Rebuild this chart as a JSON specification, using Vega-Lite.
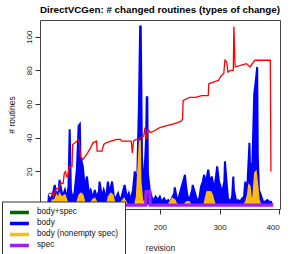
{
  "$schema": "https://vega.github.io/schema/vega-lite/v6.json",
  "width": 240,
  "height": 189,
  "autosize": {"type": "none"},
  "padding": {"left": 40, "top": 20, "right": 14, "bottom": 45},
  "background": "white",
  "title": {"text": "DirectVCGen: # changed routines (types of change)", "fontSize": 9.8, "fontWeight": "bold", "font": "Liberation Sans", "anchor": "middle", "frame": "group", "offset": 5, "color": "#000"},
  "config": {
    "view": {"stroke": "#444", "strokeWidth": 1},
    "font": "Liberation Sans",
    "axis": {"grid": false, "domain": false, "tickColor": "#333", "tickSize": 5, "labelColor": "#222", "labelFontSize": 8, "labelOverlap": false, "titleFontSize": 8.5, "titleFontWeight": "normal", "titleColor": "#222"},
    "legend": {"orient": "none", "legendX": -38, "legendY": 181.5, "fillColor": "white", "strokeColor": "#333", "padding": 6, "symbolType": "M-1,0H5.3", "symbolSize": 36, "symbolStrokeWidth": 3.5, "labelFontSize": 8.2, "labelOffset": 19, "rowPadding": 0, "clipHeight": 9.9, "labelColor": "#111"}
  },
  "datasets": {
    "red": [
      {"x":14,"y":7},{"x":20,"y":7},{"x":22,"y":5},{"x":24,"y":8},{"x":27,"y":10},{"x":31,"y":10},{"x":34,"y":13},{"x":38,"y":13},{"x":40,"y":19},{"x":42,"y":20},{"x":44,"y":17},{"x":46,"y":17},{"x":48,"y":23},{"x":53,"y":23},{"x":54,"y":36},{"x":58,"y":37},{"x":61,"y":38},{"x":63,"y":39},{"x":65,"y":38},{"x":67,"y":29},{"x":71,"y":27},{"x":75,"y":29},{"x":79,"y":31},{"x":84,"y":34},{"x":88,"y":37},{"x":94,"y":38},{"x":95,"y":32},{"x":103,"y":32},{"x":106,"y":36},{"x":110,"y":37},{"x":118,"y":38},{"x":128,"y":39},{"x":134,"y":39},{"x":136,"y":38},{"x":152,"y":38},{"x":154,"y":31},{"x":156,"y":38},{"x":160,"y":39},{"x":166,"y":39},{"x":168,"y":40},{"x":173,"y":41},{"x":175,"y":46},{"x":177,"y":39},{"x":180,"y":45},{"x":184,"y":43},{"x":190,"y":44},{"x":200,"y":46},{"x":210,"y":47},{"x":220,"y":48},{"x":230,"y":49},{"x":236,"y":50},{"x":238,"y":51},{"x":239,"y":62},{"x":244,"y":63},{"x":250,"y":64},{"x":260,"y":64},{"x":270,"y":65},{"x":281,"y":65},{"x":282,"y":72},{"x":290,"y":73},{"x":298,"y":74},{"x":303,"y":77},{"x":307,"y":78},{"x":309,"y":86},{"x":312,"y":85},{"x":314,"y":79},{"x":318,"y":80},{"x":323,"y":80},{"x":324,"y":106},{"x":326,"y":82},{"x":335,"y":83},{"x":345,"y":84},{"x":351,"y":82},{"x":359,"y":86},{"x":370,"y":86},{"x":385,"y":86},{"x":386,"y":20}
    ],
    "blue": [
      {"s":"body","x":13,"y":0},{"s":"body","x":14,"y":5},{"s":"body","x":17,"y":3},{"s":"body","x":21,"y":7},{"s":"body","x":24,"y":12},{"s":"body","x":27,"y":5},{"s":"body","x":31,"y":9},{"s":"body","x":32,"y":15},{"s":"body","x":34,"y":11},{"s":"body","x":37,"y":5},{"s":"body","x":41,"y":9},{"s":"body","x":44,"y":4},{"s":"body","x":47,"y":11},{"s":"body","x":49,"y":45},{"s":"body","x":51,"y":9},{"s":"body","x":54,"y":4},{"s":"body","x":57,"y":7},{"s":"body","x":61,"y":21},{"s":"body","x":64,"y":47},{"s":"body","x":66,"y":48},{"s":"body","x":67,"y":29},{"s":"body","x":71,"y":23},{"s":"body","x":74,"y":11},{"s":"body","x":78,"y":17},{"s":"body","x":81,"y":7},{"s":"body","x":84,"y":9},{"s":"body","x":88,"y":4},{"s":"body","x":91,"y":9},{"s":"body","x":94,"y":5},{"s":"body","x":98,"y":8},{"s":"body","x":99,"y":14},{"s":"body","x":103,"y":5},{"s":"body","x":106,"y":9},{"s":"body","x":110,"y":4},{"s":"body","x":113,"y":14},{"s":"body","x":116,"y":7},{"s":"body","x":120,"y":14},{"s":"body","x":123,"y":5},{"s":"body","x":126,"y":4},{"s":"body","x":130,"y":7},{"s":"body","x":133,"y":3},{"s":"body","x":136,"y":5},{"s":"body","x":141,"y":12},{"s":"body","x":145,"y":4},{"s":"body","x":148,"y":7},{"s":"body","x":151,"y":3},{"s":"body","x":155,"y":9},{"s":"body","x":158,"y":20},{"s":"body","x":162,"y":13},{"s":"body","x":163,"y":29},{"s":"body","x":165,"y":60},{"s":"body","x":167,"y":106},{"s":"body","x":168,"y":106},{"s":"body","x":169,"y":70},{"s":"body","x":170,"y":29},{"s":"body","x":173,"y":9},{"s":"body","x":177,"y":40},{"s":"body","x":178,"y":64},{"s":"body","x":179,"y":64},{"s":"body","x":180,"y":19},{"s":"body","x":183,"y":9},{"s":"body","x":187,"y":4},{"s":"body","x":190,"y":3},{"s":"body","x":193,"y":5},{"s":"body","x":197,"y":3},{"s":"body","x":200,"y":5},{"s":"body","x":203,"y":2},{"s":"body","x":207,"y":4},{"s":"body","x":210,"y":2},{"s":"body","x":214,"y":3},{"s":"body","x":217,"y":2},{"s":"body","x":220,"y":4},{"s":"body","x":224,"y":7},{"s":"body","x":225,"y":10.5},{"s":"body","x":229,"y":3},{"s":"body","x":232,"y":5},{"s":"body","x":235,"y":9},{"s":"body","x":239,"y":14},{"s":"body","x":242,"y":18},{"s":"body","x":244,"y":11},{"s":"body","x":247,"y":4},{"s":"body","x":251,"y":5},{"s":"body","x":254,"y":9},{"s":"body","x":255,"y":12},{"s":"body","x":259,"y":7},{"s":"body","x":262,"y":3},{"s":"body","x":266,"y":4},{"s":"body","x":269,"y":11},{"s":"body","x":272,"y":14},{"s":"body","x":274,"y":18},{"s":"body","x":277,"y":13},{"s":"body","x":281,"y":21},{"s":"body","x":284,"y":13},{"s":"body","x":287,"y":17},{"s":"body","x":291,"y":9},{"s":"body","x":294,"y":17},{"s":"body","x":296,"y":23},{"s":"body","x":299,"y":14},{"s":"body","x":301,"y":12},{"s":"body","x":304,"y":7},{"s":"body","x":308,"y":14},{"s":"body","x":309,"y":26},{"s":"body","x":311,"y":17},{"s":"body","x":314,"y":4},{"s":"body","x":318,"y":2},{"s":"body","x":321,"y":5},{"s":"body","x":323,"y":17},{"s":"body","x":324,"y":9},{"s":"body","x":328,"y":2},{"s":"body","x":331,"y":3},{"s":"body","x":334,"y":2},{"s":"body","x":338,"y":4},{"s":"body","x":341,"y":5},{"s":"body","x":343,"y":14},{"s":"body","x":346,"y":7},{"s":"body","x":350,"y":37},{"s":"body","x":351,"y":24},{"s":"body","x":355,"y":25},{"s":"body","x":358,"y":66},{"s":"body","x":361,"y":75},{"s":"body","x":363,"y":82},{"s":"body","x":364,"y":29},{"s":"body","x":366,"y":9},{"s":"body","x":370,"y":5},{"s":"body","x":373,"y":2},{"s":"body","x":376,"y":2},{"s":"body","x":380,"y":3},{"s":"body","x":383,"y":2},{"s":"body","x":386,"y":2},{"s":"body","x":388,"y":0}
    ],
    "orange": [
      {"s":"body (nonempty spec)","x":18,"y":0},{"s":"body (nonempty spec)","x":20,"y":3},{"s":"body (nonempty spec)","x":24,"y":3},{"s":"body (nonempty spec)","x":27,"y":6},{"s":"body (nonempty spec)","x":30,"y":4},{"s":"body (nonempty spec)","x":32,"y":7},{"s":"body (nonempty spec)","x":35,"y":5},{"s":"body (nonempty spec)","x":37,"y":5},{"s":"body (nonempty spec)","x":41,"y":6},{"s":"body (nonempty spec)","x":44,"y":3},{"s":"body (nonempty spec)","x":47,"y":0},{"s":"body (nonempty spec)","x":60,"y":0},{"s":"body (nonempty spec)","x":63,"y":4},{"s":"body (nonempty spec)","x":65,"y":6},{"s":"body (nonempty spec)","x":68,"y":7},{"s":"body (nonempty spec)","x":71,"y":6},{"s":"body (nonempty spec)","x":74,"y":2},{"s":"body (nonempty spec)","x":77,"y":0},{"s":"body (nonempty spec)","x":83,"y":0},{"s":"body (nonempty spec)","x":87,"y":3},{"s":"body (nonempty spec)","x":91,"y":4},{"s":"body (nonempty spec)","x":94,"y":2},{"s":"body (nonempty spec)","x":97,"y":0},{"s":"body (nonempty spec)","x":111,"y":0},{"s":"body (nonempty spec)","x":114,"y":5},{"s":"body (nonempty spec)","x":118,"y":7},{"s":"body (nonempty spec)","x":121,"y":6},{"s":"body (nonempty spec)","x":124,"y":2},{"s":"body (nonempty spec)","x":127,"y":0},{"s":"body (nonempty spec)","x":133,"y":0},{"s":"body (nonempty spec)","x":136,"y":2},{"s":"body (nonempty spec)","x":140,"y":4},{"s":"body (nonempty spec)","x":143,"y":2},{"s":"body (nonempty spec)","x":146,"y":0},{"s":"body (nonempty spec)","x":158,"y":0},{"s":"body (nonempty spec)","x":161,"y":5},{"s":"body (nonempty spec)","x":164,"y":25},{"s":"body (nonempty spec)","x":166,"y":38},{"s":"body (nonempty spec)","x":167,"y":38},{"s":"body (nonempty spec)","x":168,"y":14},{"s":"body (nonempty spec)","x":171,"y":3},{"s":"body (nonempty spec)","x":175,"y":0},{"s":"body (nonempty spec)","x":214,"y":0},{"s":"body (nonempty spec)","x":217,"y":2},{"s":"body (nonempty spec)","x":221,"y":4},{"s":"body (nonempty spec)","x":225,"y":3},{"s":"body (nonempty spec)","x":229,"y":0},{"s":"body (nonempty spec)","x":240,"y":0},{"s":"body (nonempty spec)","x":245,"y":2},{"s":"body (nonempty spec)","x":249,"y":2},{"s":"body (nonempty spec)","x":252,"y":0},{"s":"body (nonempty spec)","x":274,"y":0},{"s":"body (nonempty spec)","x":277,"y":5},{"s":"body (nonempty spec)","x":279,"y":8},{"s":"body (nonempty spec)","x":282,"y":8},{"s":"body (nonempty spec)","x":285,"y":8},{"s":"body (nonempty spec)","x":288,"y":6},{"s":"body (nonempty spec)","x":290,"y":3},{"s":"body (nonempty spec)","x":293,"y":0},{"s":"body (nonempty spec)","x":340,"y":0},{"s":"body (nonempty spec)","x":344,"y":2},{"s":"body (nonempty spec)","x":347,"y":6},{"s":"body (nonempty spec)","x":349,"y":12},{"s":"body (nonempty spec)","x":351,"y":11},{"s":"body (nonempty spec)","x":353,"y":3},{"s":"body (nonempty spec)","x":356,"y":5},{"s":"body (nonempty spec)","x":359,"y":19},{"s":"body (nonempty spec)","x":361,"y":20},{"s":"body (nonempty spec)","x":363,"y":14},{"s":"body (nonempty spec)","x":366,"y":3},{"s":"body (nonempty spec)","x":369,"y":0},{"s":"body (nonempty spec)","x":388,"y":0}
    ],
    "purple": [
      {"s":"spec","x":14,"y":0},{"s":"spec","x":176,"y":0},{"s":"spec","x":177,"y":8},{"s":"spec","x":183,"y":8},{"s":"spec","x":184,"y":0},{"s":"spec","x":390,"y":0}
    ]
  },
  "layer": [
    {
      "data": {"name": "blue"},
      "mark": {"type": "area", "color": "#0000FF", "clip": true},
      "encoding": {
        "x": {"field": "x", "type": "quantitative", "scale": {"domain": [-0.7, 401.2], "nice": false, "zero": false}, "axis": {"title": "revision", "values": [200, 300, 400], "labelPadding": 9, "titlePadding": 12}},
        "y": {"field": "y", "type": "quantitative", "scale": {"domain": [-2.3, 109.9], "nice": false, "zero": false}, "axis": {"title": "# routines", "values": [20, 40, 60, 80, 100], "labelAngle": -90, "labelAlign": "center", "labelBaseline": "bottom", "labelPadding": 2, "titlePadding": 9}}
      }
    },
    {
      "data": {"name": "blue"},
      "mark": {"type": "line", "strokeWidth": 2, "clip": true},
      "encoding": {
        "x": {"field": "x", "type": "quantitative"},
        "y": {"field": "y", "type": "quantitative"},
        "color": {"field": "s", "type": "nominal", "scale": {"domain": ["body+spec", "body", "body (nonempty spec)", "spec"], "range": ["#006400", "#0000FF", "#FFB90F", "#A020F0"]}, "legend": {"title": null}}
      }
    },
    {
      "data": {"name": "orange"},
      "mark": {"type": "area", "color": "#FFB90F", "clip": true},
      "encoding": {
        "x": {"field": "x", "type": "quantitative"},
        "y": {"field": "y", "type": "quantitative"}
      }
    },
    {
      "data": {"name": "orange"},
      "mark": {"type": "line", "strokeWidth": 1.5, "clip": true},
      "encoding": {
        "x": {"field": "x", "type": "quantitative"},
        "y": {"field": "y", "type": "quantitative"},
        "color": {"field": "s", "type": "nominal"}
      }
    },
    {
      "data": {"name": "red"},
      "mark": {"type": "line", "color": "#FF0000", "strokeWidth": 1.3, "clip": true},
      "encoding": {
        "x": {"field": "x", "type": "quantitative"},
        "y": {"field": "y", "type": "quantitative"}
      }
    },
    {
      "data": {"name": "purple"},
      "mark": {"type": "line", "strokeWidth": 3.3, "clip": true},
      "encoding": {
        "x": {"field": "x", "type": "quantitative"},
        "y": {"field": "y", "type": "quantitative"},
        "color": {"field": "s", "type": "nominal"}
      }
    }
  ]
}
